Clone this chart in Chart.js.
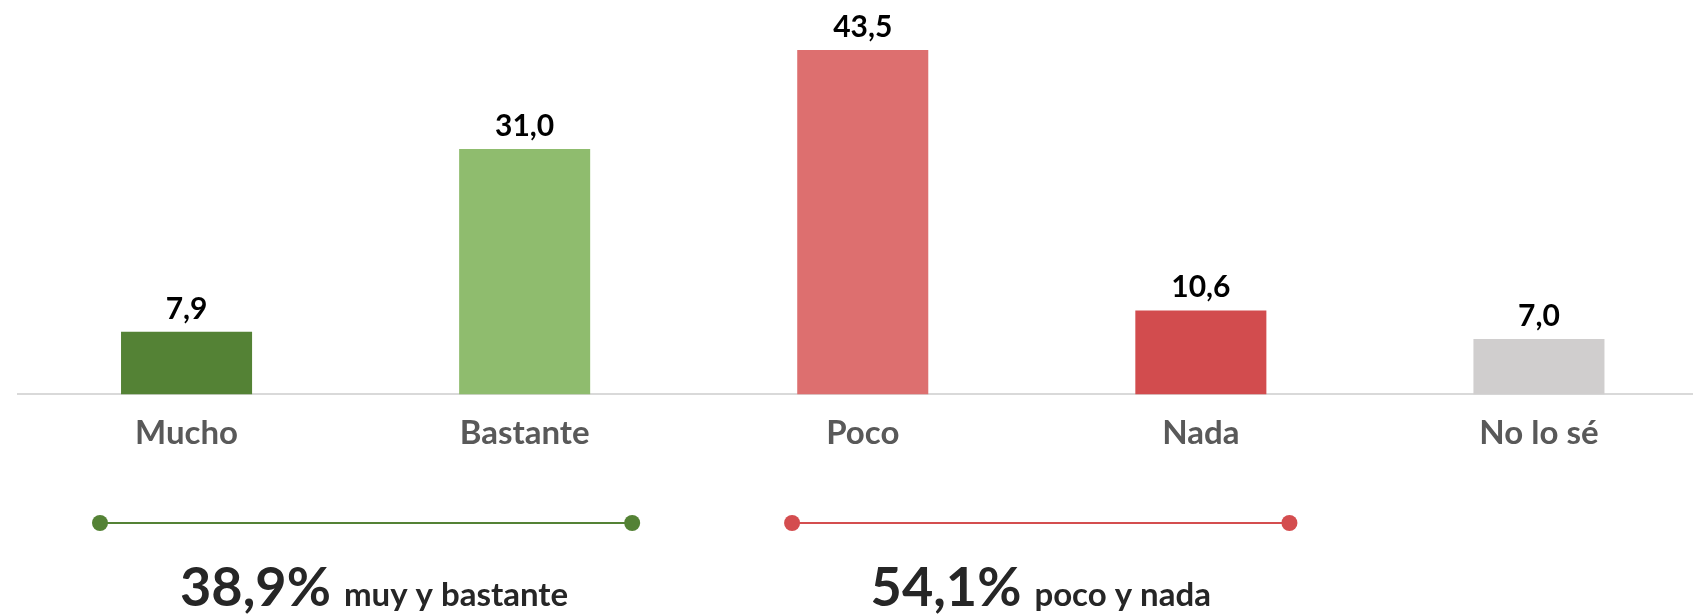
<!DOCTYPE html>
<html>
<head>
<meta charset="utf-8">
<script src="https://cdn.jsdelivr.net/npm/chart.js@4"></script>
<style>
    html, body { margin: 0; padding: 0; background: #fff; overflow: hidden; }
    #wrap { width: 1708px; height: 616px; }
</style>
</head>
<body>
<div id="wrap"><canvas id="chart" width="1708" height="616"></canvas></div>
<script>
// Data
const categories = ['Mucho', 'Bastante', 'Poco', 'Nada', 'No lo sé'];
const values = [7.9, 31.0, 43.5, 10.6, 7.0];
const barColors = ['#548235', '#8fbc6e', '#dd6f6f', '#d24c4e', '#d0cece'];

// Summary groups: which categories are added, and how far the bracket reaches (in category units)
const groups = [
    { idx: [0, 1], from: -0.256, to: 1.318, color: '#548235', label: 'muy y bastante', shift: 8 },
    { idx: [2, 3], from: 1.791, to: 3.262, color: '#d44d4f', label: 'poco y nada', shift: 0 }
];

function formatComma(v) {
    return new Intl.NumberFormat('es-AR', { minimumFractionDigits: 1, maximumFractionDigits: 1 }).format(v);
}

const labelsPlugin = {
    id: 'labelsPlugin',
    afterDraw(chart) {
        const ctx = chart.ctx;
        const meta = chart.getDatasetMeta(0);
        const xScale = chart.scales.x;

        // value labels above bars
        ctx.save();
        ctx.font = 'bold 30px Lato';
        ctx.fillStyle = '#000';
        ctx.textAlign = 'center';
        ctx.textBaseline = 'alphabetic';
        meta.data.forEach((bar, i) => {
            ctx.fillText(formatComma(values[i]), bar.x, bar.y - 13);
        });
        ctx.restore();

        // brackets + totals
        const lineY = 523;
        groups.forEach(g => {
            const x1 = xScale.getPixelForValue(g.from);
            const x2 = xScale.getPixelForValue(g.to);
            ctx.save();
            ctx.strokeStyle = g.color;
            ctx.lineWidth = 2;
            ctx.beginPath();
            ctx.moveTo(x1, lineY);
            ctx.lineTo(x2, lineY);
            ctx.stroke();
            ctx.fillStyle = g.color;
            [x1, x2].forEach(x => {
                ctx.beginPath();
                ctx.arc(x, lineY, 8, 0, Math.PI * 2);
                ctx.fill();
            });

            const total = g.idx.reduce((s, i) => s + values[i], 0);
            const big = formatComma(total) + '%';
            ctx.fillStyle = '#262626';
            ctx.textBaseline = 'alphabetic';
            ctx.textAlign = 'left';
            ctx.font = 'bold 54px Lato';
            const wBig = ctx.measureText(big).width;
            ctx.font = 'bold 33px Lato';
            const gap = 13;
            const wSmall = ctx.measureText(g.label).width;
            const totalW = wBig + gap + wSmall;
            const cx = (x1 + x2) / 2 + g.shift;
            const startX = cx - totalW / 2;
            ctx.font = 'bold 54px Lato';
            ctx.fillText(big, startX, 606);
            ctx.font = 'bold 33px Lato';
            ctx.fillText(g.label, startX + wBig + gap, 606);
            ctx.restore();
        });
    }
};

const ctx = document.getElementById('chart').getContext('2d');
new Chart(ctx, {
    type: 'bar',
    data: {
        labels: categories,
        datasets: [{
            data: values,
            backgroundColor: barColors,
            barPercentage: 0.3876,
            categoryPercentage: 1
        }]
    },
    options: {
        responsive: false,
        animation: false,
        devicePixelRatio: 1,
        layout: { padding: { left: 17.5, right: 0, top: 0, bottom: 144 } },
        plugins: {
            legend: { display: false },
            tooltip: { enabled: false }
        },
        scales: {
            x: {
                grid: { display: false, drawTicks: false },
                border: { display: true, color: '#d9d9d9', width: 2 },
                ticks: {
                    color: '#595959',
                    font: { family: 'Lato', size: 33, weight: 'bold' },
                    padding: 19
                }
            },
            y: {
                display: false,
                min: 0,
                max: 49.8
            }
        }
    },
    plugins: [labelsPlugin]
});
</script>
</body>
</html>
